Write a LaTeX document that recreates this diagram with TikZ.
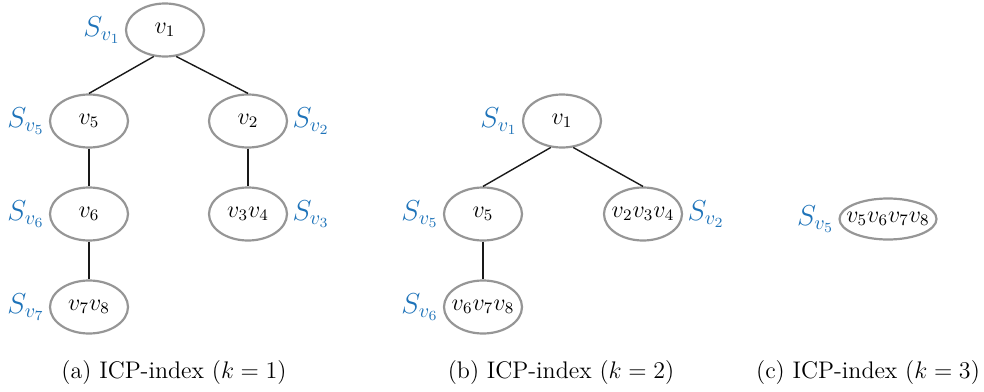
\documentclass[tikz,border=0pt]{standalone}
\usepackage{tikz}
\usetikzlibrary{shapes.geometric}
\usepackage{amsmath,amssymb}
\usepackage{xcolor}
\definecolor{setblue}{RGB}{30,115,185}
\definecolor{nodegray}{RGB}{150,150,150}

\begin{document}
\begin{tikzpicture}[x = .5pt, y = -.5pt,
  tnode/.style = {ellipse, draw = nodegray, line width = 1.1pt, minimum width = 39pt,
    minimum height = 26.5pt, inner xsep = -3pt, inner ysep = 0pt, font = \large},
  sl/.style = {text = setblue, font = \Large, inner sep = 2pt},
  edge/.style = {line width = .7pt, black!90}]
\useasboundingbox (0,0) rectangle (984,391);

% tree (a): k = 1
\node[tnode, label = {[sl]left:$S_{v_1}$}] (a1) at (165,30) {$v_1$};
\node[tnode, label = {[sl]left:$S_{v_5}$}] (a5) at (89,121) {$v_5$};
\node[tnode, label = {[sl]right:$S_{v_2}$}] (a2) at (248,121) {$v_2$};
\node[tnode, label = {[sl]left:$S_{v_6}$}] (a6) at (89,214) {$v_6$};
\node[tnode, label = {[sl]right:$S_{v_3}$}] (a3) at (248,214) {$v_3v_4$};
\node[tnode, label = {[sl]left:$S_{v_7}$}] (a7) at (89,307) {$v_7v_8$};

\draw[edge] (a1.247) -- (a5.north);
\draw[edge] (a1.293) -- (a2.north);
\draw[edge] (a5) -- (a6);
\draw[edge] (a6) -- (a7);
\draw[edge] (a2) -- (a3);

% tree (b): k = 2
\node[tnode, label = {[sl]left:$S_{v_1}$}] (b1) at (562,121) {$v_1$};
\node[tnode, label = {[sl]left:$S_{v_5}$}] (b5) at (483,214) {$v_5$};
\node[tnode, label = {[sl]right:$S_{v_2}$}] (b2) at (643,214) {$v_2v_3v_4$};
\node[tnode, label = {[sl]left:$S_{v_6}$}] (b6) at (483,307) {$v_6v_7v_8$};

\draw[edge] (b1.247) -- (b5.north);
\draw[edge] (b1.293) -- (b2.north);
\draw[edge] (b5) -- (b6);

% tree (c): k = 3
\node[tnode, minimum width = 48.5pt, minimum height = 20.5pt, inner xsep = -5pt,
  label = {[sl]left:$S_{v_5}$}] (c5) at (888,219) {$v_5v_6v_7v_8$};

% captions
\foreach \x/\k/\c in {174/1/a, 561/2/b, 868/3/c}{
  \node[font = \large] (cap\c) at (\x,373) {(\c) ICP-index ($k = \k$)};
}

\end{tikzpicture}
\end{document}
